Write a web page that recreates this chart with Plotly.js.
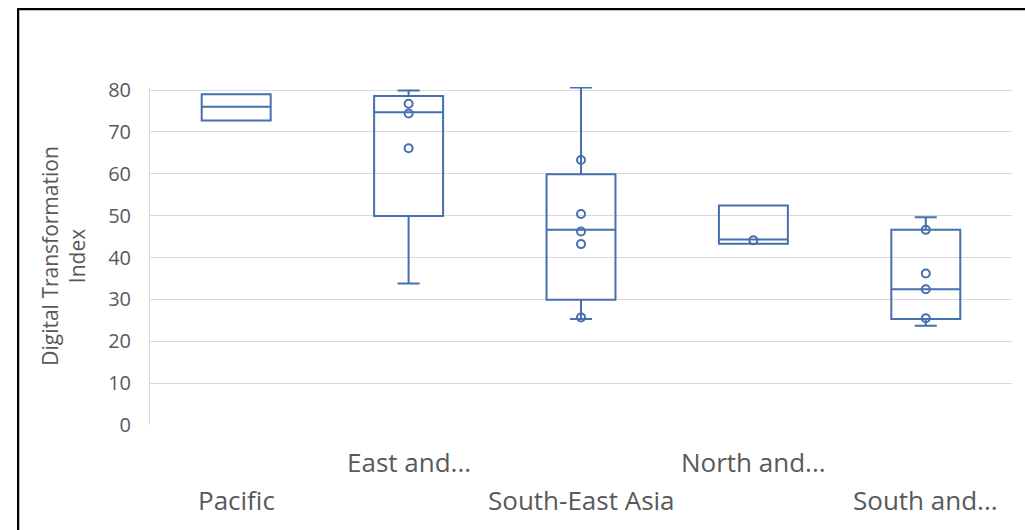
<!DOCTYPE html>
<html>
<head>
<meta charset="utf-8">
<script src="https://cdn.plot.ly/plotly-3.0.1.min.js"></script>
<style>
  html, body { margin: 0; padding: 0; background: #fff; }
  #wrap { position: relative; width: 1025px; height: 530px; overflow: hidden; }
  #chart { position: absolute; left: 0; top: 0; width: 1025px; height: 530px; }
  #frame { position: absolute; left: 17px; top: 8px; width: 1100px; height: 600px;
           border-left: 2px solid #000; border-top: 2px solid #000; pointer-events: none;
           box-shadow: inset 1px 1px 0 #bdbdbd; }
</style>
</head>
<body>
<div id="wrap">
  <div id="chart"></div>
  <div id="frame"></div>
</div>
<script>
// Categories (as shown, truncated in the original)
var categories = ['Pacific', 'East and...', 'South-East Asia', 'North and...', 'South and...'];
var labelRow   = [2, 1, 2, 1, 2];   // staggered label rows

// Box statistics
var q1         = [72.7, 49.9, 29.9, 43.3, 25.3];
var medians    = [76.0, 74.7, 46.6, 44.3, 32.4];
var q3         = [79.0, 78.6, 59.9, 52.4, 46.6];
var lowerFence = [72.7, 33.8, 25.3, 43.3, 23.7];
var upperFence = [79.0, 79.9, 80.6, 52.4, 49.6];

// Inner points
var pointCats = ['East and...', 'East and...', 'East and...',
                 'South-East Asia', 'South-East Asia', 'South-East Asia', 'South-East Asia', 'South-East Asia',
                 'North and...',
                 'South and...', 'South and...', 'South and...', 'South and...'];
var pointVals = [76.7, 74.4, 66.1,
                 63.3, 50.4, 46.2, 43.2, 25.7,
                 44.1,
                 46.6, 36.2, 32.4, 25.5];

var blue = '#466fae';
var grey = '#595959';
var fontFam = '"Open Sans", "Noto Sans", sans-serif';

var boxTrace = {
  type: 'box',
  x: categories,
  q1: q1,
  median: medians,
  q3: q3,
  lowerfence: lowerFence,
  upperfence: upperFence,
  boxpoints: false,
  line: { color: blue, width: 2 },
  fillcolor: 'rgba(255,255,255,0)',
  whiskerwidth: 0.32,
  hoverinfo: 'none',
  showlegend: false
};

var pointTrace = {
  type: 'scatter',
  mode: 'markers',
  x: pointCats,
  y: pointVals,
  marker: { symbol: 'circle-open', size: 8, color: blue, line: { color: blue, width: 2 } },
  hoverinfo: 'none',
  showlegend: false
};

var annotations = categories.map(function (c, i) {
  return {
    xref: 'x', yref: 'paper',
    x: c, y: 0,
    text: c,
    showarrow: false,
    xanchor: 'center', yanchor: 'middle',
    yshift: labelRow[i] === 1 ? -37 : -75,
    font: { family: fontFam, size: 26, color: grey }
  };
});

var layout = {
  width: 1025,
  height: 530,
  margin: { l: 150, r: 13, t: 87, b: 105, pad: 0 },
  paper_bgcolor: '#ffffff',
  plot_bgcolor: '#ffffff',
  boxgap: 0.6,
  boxgroupgap: 0,
  xaxis: {
    type: 'category',
    categoryorder: 'array',
    categoryarray: categories,
    showticklabels: false,
    showgrid: false,
    zeroline: false,
    showline: false,
    ticks: '',
    fixedrange: true
  },
  yaxis: {
    range: [0, 80.72],
    tickvals: [0, 10, 20, 30, 40, 50, 60, 70, 80],
    showgrid: true,
    gridcolor: '#d9d9d9',
    gridwidth: 1,
    zeroline: false,
    showline: true,
    linecolor: '#d9d9d9',
    linewidth: 1,
    ticks: '',
    ticklabelstandoff: 14,
    tickfont: { family: fontFam, size: 20, color: grey },
    title: {
      text: 'Digital Transformation<br>Index',
      font: { family: fontFam, size: 21, color: grey },
      standoff: 16
    },
    fixedrange: true
  },
  annotations: annotations,
  font: { family: fontFam, color: grey }
};

Plotly.newPlot('chart', [boxTrace, pointTrace], layout, { displayModeBar: false, staticPlot: true });
</script>
</body>
</html>
